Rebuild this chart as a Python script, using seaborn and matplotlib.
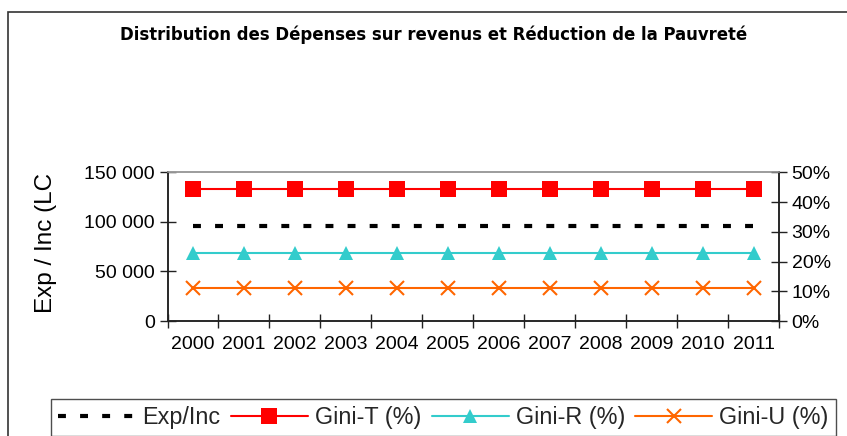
import matplotlib
matplotlib.use("Agg")
import matplotlib.pyplot as plt
from matplotlib.patches import Rectangle
from matplotlib.lines import Line2D
from matplotlib.ticker import FuncFormatter, FixedLocator
import numpy as np
import pandas as pd
import seaborn as sns

# ---- data ----
years = ["2000", "2001", "2002", "2003", "2004", "2005",
         "2006", "2007", "2008", "2009", "2010", "2011"]
exp_inc = [96000, 96000, 96000, 96000, 96000, 96000,
           96000, 96000, 96000, 96000, 96000, 96000]
gini_t = [0.443, 0.443, 0.443, 0.443, 0.443, 0.443,
          0.443, 0.443, 0.443, 0.443, 0.443, 0.443]
gini_r = [0.23, 0.23, 0.23, 0.23, 0.23, 0.23,
          0.23, 0.23, 0.23, 0.23, 0.23, 0.23]
gini_u = [0.111, 0.111, 0.111, 0.111, 0.111, 0.111,
          0.111, 0.111, 0.111, 0.111, 0.111, 0.111]

title = "Distribution des Dépenses sur revenus et Réduction de la Pauvreté"
left_label = "Exp / Inc (LC"
left_ticks = [0, 50000, 100000, 150000]
right_ticks = [0.0, 0.1, 0.2, 0.3, 0.4, 0.5]
series_labels = ["Exp/Inc", "Gini-T (%)", "Gini-R (%)", "Gini-U (%)"]

sns.set_theme(style="white")
plt.rcParams["font.family"] = ["Liberation Sans", "DejaVu Sans"]

W, H = 847, 436
fig = plt.figure(figsize=(W / 100, H / 100), dpi=100)
fig.patch.set_facecolor("white")

# outer chart frame
fig.patches.append(Rectangle((8 / W, -0.2), 1.2, 1 - 12 / H + 0.2,
                             transform=fig.transFigure, fill=False,
                             edgecolor="#333333", linewidth=1.2))

ax = fig.add_axes([167.5 / W, 1 - 321 / H, (779 - 167.5) / W, (321 - 172.3) / H])
ax2 = ax.twinx()

df = pd.DataFrame({
    "pos": np.arange(len(years)),
    "exp_inc": exp_inc,
    "gini_t": gini_t,
    "gini_r": gini_r,
    "gini_u": gini_u,
})

DASH = (0, (1.9, 3.4))
styles = {
    "exp_inc": dict(color="black", linewidth=3.0, linestyle=DASH),
    "gini_t": dict(color="#FF0000", linewidth=1.5, marker="s", markersize=12,
                   markeredgewidth=0),
    "gini_r": dict(color="#33CCCC", linewidth=1.5, marker="^", markersize=10,
                   markeredgewidth=0),
    "gini_u": dict(color="#FF6600", linewidth=1.5, marker="x", markersize=10,
                   markeredgewidth=1.5, markeredgecolor="#FF6600"),
}

sns.lineplot(data=df, x="pos", y="exp_inc", ax=ax, legend=False, **styles["exp_inc"])
for key in ("gini_t", "gini_r", "gini_u"):
    sns.lineplot(data=df, x="pos", y=key, ax=ax2, legend=False, **styles[key])

for a in (ax, ax2):
    a.set_xlim(-0.5, len(years) - 0.5)
    a.set_xlabel("")
    a.set_ylabel("")
    a.grid(False)
    a.patch.set_alpha(0)

ax.set_ylim(0, 150000)
ax2.set_ylim(0, 0.5)

ax.set_yticks(left_ticks)
ax.yaxis.set_major_formatter(FuncFormatter(lambda v, p: f"{int(v):,}".replace(",", " ")))
ax2.set_yticks(right_ticks)
ax2.yaxis.set_major_formatter(FuncFormatter(lambda v, p: f"{v * 100:.0f}%"))

# category labels at centers, tick marks at category boundaries
ax.set_xticks(np.arange(len(years)))
ax.set_xticklabels(years)
ax.xaxis.set_minor_locator(FixedLocator(np.arange(-0.5, len(years), 1.0)))
ax.tick_params(axis="x", which="major", length=0, labelsize=14, pad=11, colors="black")
ax.tick_params(axis="x", which="minor", length=10, width=1, direction="inout",
               bottom=True, color="#222222")
ax.tick_params(axis="y", length=12, width=1, direction="inout", labelsize=14,
               pad=3, left=True, color="#222222", labelcolor="black")
ax2.tick_params(axis="y", length=12, width=1, direction="inout", labelsize=14,
                pad=3, right=True, color="#222222", labelcolor="black")

for a in (ax, ax2):
    for side in ("left", "bottom", "right"):
        a.spines[side].set_color("#222222")
        a.spines[side].set_linewidth(1.1)
    a.spines["top"].set_color("#999999")
    a.spines["top"].set_linewidth(1.1)

fig.text(46 / W, 1 - 243 / H, left_label, rotation=90, ha="center", va="center",
         fontsize=17.5, color="black")

fig.text(434 / W, 1 - 35 / H, title, ha="center", va="center",
         fontsize=11.9, fontweight="bold", color="black", family="DejaVu Sans")

handles = [
    Line2D([], [], **styles["exp_inc"]),
    Line2D([], [], **styles["gini_t"]),
    Line2D([], [], **styles["gini_r"]),
    Line2D([], [], **styles["gini_u"]),
]
leg = fig.legend(handles, series_labels, loc="upper left",
                 bbox_to_anchor=(51 / W, 1 - 399 / H), ncol=4, fontsize=16.8,
                 frameon=True, fancybox=False, edgecolor="#222222",
                 handlelength=3.3, handletextpad=0.3, columnspacing=0.45,
                 borderpad=0.3, borderaxespad=0, numpoints=1)
leg.get_frame().set_linewidth(1.0)

fig.savefig("out.png", dpi=100)
